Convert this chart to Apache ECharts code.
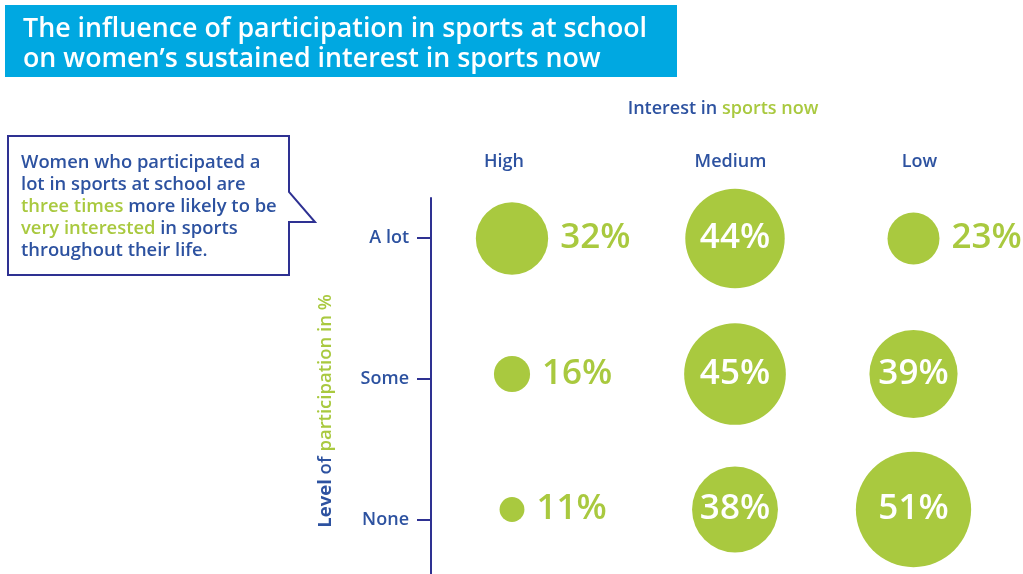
<!DOCTYPE html>
<html>
<head>
<meta charset="utf-8">
<script src="https://cdn.jsdelivr.net/npm/echarts@6/dist/echarts.min.js"></script>
<style>
html,body{margin:0;padding:0;background:#fff;}
#chart{width:1023px;height:574px;}
</style>
</head>
<body>
<div id="chart"></div>
<script>
// ---- data ----
const interestLevels = ['High', 'Medium', 'Low'];
const participation = ['A lot', 'Some', 'None'];
const highInterest = [32, 16, 11];
const mediumInterest = [44, 45, 38];
const lowInterest = [23, 39, 51];
const columns = [highInterest, mediumInterest, lowInterest];

const NAVY = '#2e3192';
const BLUE = '#2d52a0';
const GREEN = '#a9c93f';
const SKY = '#00a8e1';
const FONT = '"Open Sans", Roboto, sans-serif';
const OUTSIDE_LIMIT = 35;
const SIZE_SCALE = 2.26;

const chart = echarts.init(document.getElementById('chart'));

const colCenters = [512, 735, 913.5];
const colWidth = 170;
const headerPad = [[0, 16, 0, 0], [0, 9, 0, 0], [0, 0, 0, 12]];

const grids = [], xAxes = [], yAxes = [], series = [];
columns.forEach((vals, i) => {
  grids.push({left: colCenters[i] - colWidth / 2, width: colWidth, top: 172, height: 402});
  xAxes.push({
    type: 'category', gridIndex: i, data: [interestLevels[i]], position: 'top',
    axisLine: {show: false}, axisTick: {show: false},
    axisLabel: {color: BLUE, fontFamily: FONT, fontSize: 18, fontWeight: 600, margin: 1, padding: headerPad[i]}
  });
  yAxes.push({type: 'value', gridIndex: i, inverse: true, min: -0.4908, max: 2.476, show: false});
  series.push({
    type: 'scatter', xAxisIndex: i, yAxisIndex: i,
    symbol: 'circle',
    symbolSize: v => v[2] * SIZE_SCALE,
    itemStyle: {color: GREEN, opacity: 1},
    emphasis: {disabled: true},
    data: vals.map((v, j) => ({
      value: [0, j, v],
      label: v < OUTSIDE_LIMIT
        ? {show: true, position: 'right', distance: 12, color: GREEN, fontSize: 35, fontWeight: 600, fontFamily: FONT, formatter: v + '%'}
        : {show: true, position: 'inside', color: '#fff', fontSize: 35, fontWeight: 600, fontFamily: FONT, formatter: v + '%'}
    }))
  });
});

// visible participation axis
grids.push({left: 431, width: 10, top: 198, height: 376});
xAxes.push({type: 'value', gridIndex: 3, show: false});
yAxes.push({
  type: 'value', gridIndex: 3, inverse: true, min: -0.2837, max: 2.383,
  axisLine: {show: true, lineStyle: {color: NAVY, width: 2}},
  axisTick: {show: true, length: 14, lineStyle: {color: NAVY, width: 2}, customValues: [0, 1, 2]},
  axisLabel: {customValues: [0, 1, 2], formatter: v => participation[v] || '', color: BLUE,
    fontFamily: FONT, fontSize: 18, fontWeight: 600, margin: 22},
  splitLine: {show: false}
});

chart.setOption({
  animation: false,
  grid: grids,
  xAxis: xAxes,
  yAxis: yAxes,
  series: series,
  graphic: [
    {type: 'rect', shape: {x: 5, y: 5, width: 672, height: 72}, style: {fill: SKY}},
    {type: 'text', x: 23, y: 14, style: {
      text: 'The influence of participation in sports at school\non women\u2019s sustained interest in sports now',
      fill: '#fff', font: '600 26.8px ' + FONT, lineHeight: 30.5}},
    {type: 'polygon', shape: {points: [[8,136],[289,136],[289,192],[315,222],[289,222],[289,275],[8,275]]},
      style: {fill: '#fff', stroke: NAVY, lineWidth: 2}},
    {type: 'text', x: 21, y: 152, style: {
      text: '{b|Women who participated a}\n{b|lot in sports at school are}\n{g|three times}{b| more likely to be}\n{g|very interested}{b| in sports}\n{b|throughout their life.}',
      rich: {
        b: {fill: BLUE, font: '600 18.4px ' + FONT, lineHeight: 22},
        g: {fill: GREEN, font: '600 18.4px ' + FONT, lineHeight: 22}
      }}},
    {type: 'text', x: 723, y: 109, style: {
      text: '{b|Interest in }{g|sports now}', align: 'center', verticalAlign: 'middle',
      rich: {b: {fill: BLUE, font: '600 18px ' + FONT}, g: {fill: GREEN, font: '600 18px ' + FONT}}}},
    {type: 'text', x: 326, y: 411, rotation: Math.PI / 2, style: {
      text: '{bb|Level}{b| of }{g|participation in %}', align: 'center', verticalAlign: 'middle',
      rich: {bb: {fill: BLUE, font: '700 18.5px ' + FONT}, b: {fill: BLUE, font: '600 18.5px ' + FONT}, g: {fill: GREEN, font: '600 18.5px ' + FONT}}}}
  ]
});
</script>
</body>
</html>
